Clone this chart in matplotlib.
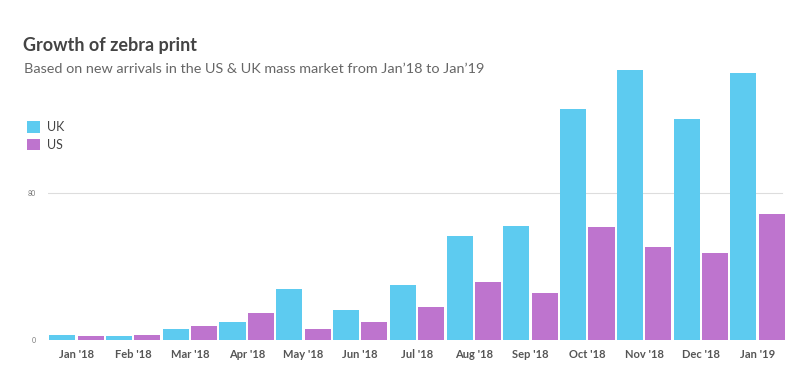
import numpy as np
import matplotlib.pyplot as plt

# Data
months = ["Jan '18", "Feb '18", "Mar '18", "Apr '18", "May '18", "Jun '18", "Jul '18",
          "Aug '18", "Sep '18", "Oct '18", "Nov '18", "Dec '18", "Jan '19"]
uk = [2.7, 2.0, 5.8, 10.0, 27.5, 16.5, 29.9, 56.5, 62.0, 125.5, 146.7, 120.5, 145.5]
us = [2.0, 2.7, 7.6, 14.9, 5.8, 10.0, 18.1, 31.4, 25.4, 61.6, 50.4, 47.5, 68.3]

uk_color = "#5DCBF0"
us_color = "#BE74CE"

plt.rcParams['font.family'] = ['Lato', 'DejaVu Sans']

fig = plt.figure(figsize=(8.1, 3.72), dpi=100)
ax = fig.add_axes([48/810, 1-340/372, 738/810, 276/372])

x = np.arange(len(months))
w = 0.46
ax.bar(x - 0.25, uk, width=w, color=uk_color, label="UK", zorder=2)
ax.bar(x + 0.25, us, width=w, color=us_color, label="US", zorder=2)

ax.set_xlim(-0.5, len(months) - 0.5)
ax.set_ylim(0, 276/1.8375)
ax.set_yticks([0, 80])
ax.set_yticklabels(["0", "80"], fontsize=5, color="#777777")
ax.axhline(80, xmin=0, xmax=0.995, color="#dddddd", linewidth=0.8, zorder=1)
ax.tick_params(axis='y', length=0, pad=9)

ax.set_xticks(x)
ax.set_xticklabels(months, fontsize=8, color="#555555", fontweight="bold")
ax.tick_params(axis='x', length=0, pad=6.5)

for s in ax.spines.values():
    s.set_visible(False)

# Title and subtitle
fig.text(23/810, 1-45/372, "Growth of zebra print", fontsize=13, fontweight="bold",
         color="#444444", va="center", ha="left")
fig.text(24/810, 1-69/372, "Based on new arrivals in the US & UK mass market from Jan\u201918 to Jan\u201919",
         fontsize=10.4, color="#666666", va="center", ha="left")

# Legend (squares + labels)
ax.legend(loc="upper left", bbox_to_anchor=(16/810, 1-110/372), bbox_transform=fig.transFigure,
          frameon=False, fontsize=9, handlelength=1.0, handleheight=1.0,
          handletextpad=0.6, labelspacing=0.45, labelcolor="#444444")

fig.savefig("out.png", dpi=100)
